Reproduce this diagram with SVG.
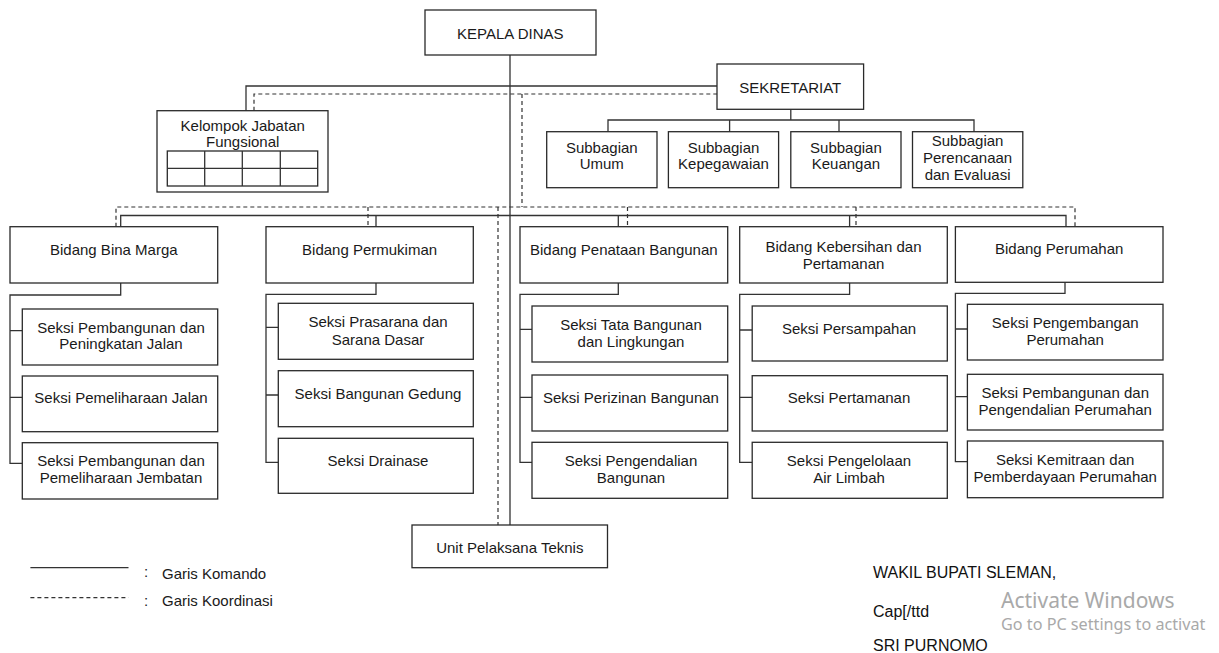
<svg xmlns="http://www.w3.org/2000/svg" width="1219" height="653" viewBox="0 0 1219 653">
<style>
.b{fill:#fff;stroke:#2a2a2a;stroke-width:1.3}
.t{font-family:"Liberation Sans",Arial,sans-serif;font-size:15px;fill:#1a1a1a;text-anchor:middle}
.l{font-family:"Liberation Sans",Arial,sans-serif;font-size:15px;fill:#1a1a1a}
.s{font-family:"Liberation Sans",Arial,sans-serif;font-size:16px;fill:#111}
.c{fill:none;stroke:#333;stroke-width:1.3}
.d{fill:none;stroke:#333;stroke-width:1.2;stroke-dasharray:4 3}
.w{font-family:"Noto Sans","Open Sans",sans-serif;fill:#a9a9a9}
</style>
<rect width="1219" height="653" fill="#fff"/>
<g id="connectors">
<path class="c" d="M510 55V525M246 110.7V86H717M790.8 109.3V120M608 131.7V120H974V131.7M729.6 120V131.7M839 120V131.7"/>
<path class="c" d="M120.7 226.7V215.5H1066V226.7M376 215.5V226.7M618.3 215.5V226.7M849.6 215.5V226.7"/>
<path class="d" d="M254 110.7V94H717M522 94V207M116 226.7V207H1075V226.7M368 207V226.7M498 207V525M627.5 207V226.7M856 207V226.7"/>
<path class="c" d="M120.7 283V295H10V463.3H22.3M10 330.7H22.3M10 397.3H22.3"/>
<path class="c" d="M376 283V294.3H266V462.3H278.3M266 327.3H278.3M266 395H278.3"/>
<path class="c" d="M618.3 283V294.3H520V462.3H532M520 329.3H532M520 397.3H532"/>
<path class="c" d="M849.6 283V294.3H739.7V462.3H752.2M739.7 330H752.2M739.7 397.3H752.2"/>
<path class="c" d="M1065 282.3V293.3H955.4V461.7H967.4M955.4 329H967.4M955.4 396.7H967.4"/>
</g>
<g id="kepala"><rect class="b" x="425" y="10" width="171" height="45"/><text class="t" x="510.3" y="38.5" font-size="16">KEPALA DINAS</text></g>
<g id="sekretariat"><rect class="b" x="717" y="64" width="146.6" height="45.3"/><text class="t" x="790.3" y="92.5">SEKRETARIAT</text></g>
<g id="kjf"><rect class="b" x="157" y="110.7" width="171" height="81.3"/>
<text class="t" x="242.7" y="131">Kelompok Jabatan</text><text class="t" x="242.7" y="147">Fungsional</text>
<rect class="b" x="167.3" y="151" width="150.4" height="35"/>
<path class="c" d="M167.3 168.3H317.7M204.7 151V186M242.3 151V186M280.3 151V186"/></g>
<g id="sub-umum"><rect class="b" x="546.7" y="131.7" width="110.3" height="56"/><text class="t" x="601.8" y="152.5">Subbagian</text><text class="t" x="601.8" y="169">Umum</text></g>
<g id="sub-kepegawaian"><rect class="b" x="668.4" y="131.7" width="110.2" height="56"/><text class="t" x="723.5" y="152.5">Subbagian</text><text class="t" x="723.5" y="169">Kepegawaian</text></g>
<g id="sub-keuangan"><rect class="b" x="790.8" y="131.7" width="110.2" height="56"/><text class="t" x="845.9" y="152.5">Subbagian</text><text class="t" x="845.9" y="169">Keuangan</text></g>
<g id="sub-perencanaan"><rect class="b" x="912.5" y="131.7" width="110.3" height="56"/><text class="t" x="967.6" y="146">Subbagian</text><text class="t" x="967.6" y="163.3">Perencanaan</text><text class="t" x="967.6" y="180">dan Evaluasi</text></g>
<g id="bidang-bina-marga"><rect class="b" x="10" y="226.7" width="207.7" height="56.3"/><text class="t" x="113.8" y="255.3">Bidang Bina Marga</text></g>
<g id="bidang-permukiman"><rect class="b" x="266" y="226.7" width="207.3" height="56.3"/><text class="t" x="369.6" y="255.3">Bidang Permukiman</text></g>
<g id="bidang-penataan"><rect class="b" x="520" y="226.7" width="207.7" height="56.3"/><text class="t" x="623.8" y="255.3">Bidang Penataan Bangunan</text></g>
<g id="bidang-kebersihan"><rect class="b" x="739.7" y="226.7" width="207.6" height="56.3"/><text class="t" x="843.5" y="252">Bidang Kebersihan dan</text><text class="t" x="843.5" y="268.6">Pertamanan</text></g>
<g id="bidang-perumahan"><rect class="b" x="955.4" y="226.7" width="207.6" height="55.6"/><text class="t" x="1059.2" y="254.3">Bidang Perumahan</text></g>
<g id="seksi-bm1"><rect class="b" x="22.3" y="309" width="195.4" height="56"/><text class="t" x="121" y="333.3">Seksi Pembangunan dan</text><text class="t" x="121" y="349.3">Peningkatan Jalan</text></g>
<g id="seksi-bm2"><rect class="b" x="22.3" y="376" width="195.4" height="55.7"/><text class="t" x="121" y="403.3">Seksi Pemeliharaan Jalan</text></g>
<g id="seksi-bm3"><rect class="b" x="22.3" y="442.7" width="195.4" height="56.3"/><text class="t" x="121" y="466.3">Seksi Pembangunan dan</text><text class="t" x="121" y="483">Pemeliharaan Jembatan</text></g>
<g id="seksi-pk1"><rect class="b" x="278.3" y="303.3" width="195" height="56"/><text class="t" x="378" y="327">Seksi Prasarana dan</text><text class="t" x="378" y="344.6">Sarana Dasar</text></g>
<g id="seksi-pk2"><rect class="b" x="278.3" y="370.7" width="195" height="56"/><text class="t" x="378" y="398.6">Seksi Bangunan Gedung</text></g>
<g id="seksi-pk3"><rect class="b" x="278.3" y="438.3" width="195" height="55"/><text class="t" x="378" y="466.3">Seksi Drainase</text></g>
<g id="seksi-pb1"><rect class="b" x="532" y="306" width="195.7" height="56"/><text class="t" x="631" y="329.6">Seksi Tata Bangunan</text><text class="t" x="631" y="347">dan Lingkungan</text></g>
<g id="seksi-pb2"><rect class="b" x="532" y="375" width="195.7" height="56"/><text class="t" x="631" y="403">Seksi Perizinan Bangunan</text></g>
<g id="seksi-pb3"><rect class="b" x="532" y="442.3" width="195.7" height="56"/><text class="t" x="631" y="466.3">Seksi Pengendalian</text><text class="t" x="631" y="483">Bangunan</text></g>
<g id="seksi-kp1"><rect class="b" x="752.2" y="306" width="195.1" height="55"/><text class="t" x="849" y="334.3">Seksi Persampahan</text></g>
<g id="seksi-kp2"><rect class="b" x="752.2" y="375.7" width="195.1" height="55.3"/><text class="t" x="849" y="403">Seksi Pertamanan</text></g>
<g id="seksi-kp3"><rect class="b" x="752.2" y="442.3" width="195.1" height="56"/><text class="t" x="849" y="466.3">Seksi Pengelolaan</text><text class="t" x="849" y="483">Air Limbah</text></g>
<g id="seksi-pr1"><rect class="b" x="967.4" y="304.3" width="195.6" height="55.7"/><text class="t" x="1065.2" y="328">Seksi Pengembangan</text><text class="t" x="1065.2" y="345.3">Perumahan</text></g>
<g id="seksi-pr2"><rect class="b" x="967.4" y="374.3" width="195.6" height="55.7"/><text class="t" x="1065.2" y="398">Seksi Pembangunan dan</text><text class="t" x="1065.2" y="415.3">Pengendalian Perumahan</text></g>
<g id="seksi-pr3"><rect class="b" x="967.4" y="441" width="195.6" height="56.7"/><text class="t" x="1065.2" y="465.3">Seksi Kemitraan dan</text><text class="t" x="1065.2" y="482">Pemberdayaan Perumahan</text></g>
<g id="upt"><rect class="b" x="412" y="525" width="195.5" height="42.7"/><text class="t" x="509.8" y="553">Unit Pelaksana Teknis</text></g>
<g id="legend">
<line class="c" x1="30.4" y1="567.7" x2="128.5" y2="567.7"/>
<line class="d" x1="30.4" y1="597.7" x2="128.5" y2="597.7"/>
<text class="l" x="144" y="577">:</text><text class="l" x="162" y="579">Garis Komando</text>
<text class="l" x="144" y="606">:</text><text class="l" x="162" y="606">Garis Koordinasi</text>
</g>
<g id="signature">
<text class="s" x="873" y="578">WAKIL BUPATI SLEMAN,</text>
<text class="s" x="873" y="616.5">Cap[/ttd</text>
<text class="s" x="873" y="650.5">SRI PURNOMO</text>
</g>
<g id="watermark">
<text class="w" x="1001" y="608.3" font-size="21">Activate Windows</text>
<text class="w" x="1001" y="630" font-size="16.2">Go to PC settings to activat</text>
</g>
</svg>
